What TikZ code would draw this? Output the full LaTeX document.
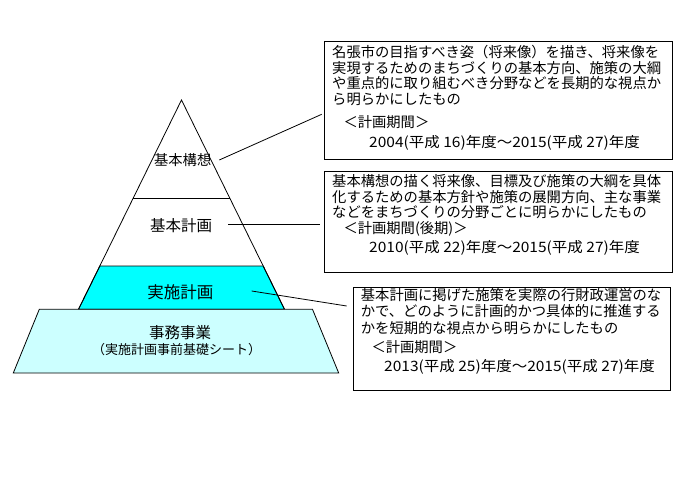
\documentclass[tikz,border=0pt]{standalone}
\usepackage{graphicx}
\usepackage{fontspec}
\newfontfamily\jp{Noto Sans CJK JP}
\definecolor{bandcyan}{RGB}{0,255,255}
\definecolor{basecyan}{RGB}{204,255,255}
\newcommand{\wdate}[1]{\scalebox{1.084}[1]{#1}}
\begin{document}
\begin{tikzpicture}[x=1pt,y=-1pt,
  edge/.style={draw=black,line width=0.8pt},
  infobox/.style={draw=black,line width=0.9pt,fill=white,inner sep=0,outer sep=0},
  txt/.style={font=\jp\fontsize{14.3}{16}\selectfont,inner sep=0,anchor=base west},
  lbl/.style={inner sep=0,anchor=base}]
\useasboundingbox (0,0) rectangle (700,500);
% pyramid
\filldraw[edge,fill=bandcyan] (99.8,266) -- (263.2,266) -- (284.5,309.3) -- (78.5,309.3) -- cycle;
\draw[edge] (78.5,309.3) -- (181.5,100) -- (284.5,309.3);
\draw[edge] (133.1,198.3) -- (229.9,198.3);
\filldraw[edge,fill=basecyan] (39.3,309.3) -- (312.5,309.3) -- (338.7,373) -- (13.3,373) -- cycle;
% pyramid labels
\node[lbl,font=\jp\fontsize{14.3}{16}\selectfont] (lkoso) at (182.7,165.4) {基本構想};
\node[lbl,font=\jp\fontsize{15.5}{17}\selectfont] (lkihon) at (181,231.6) {基本計画};
\node[lbl,font=\jp\fontsize{16.5}{18}\selectfont] (ljisshi) at (180.3,298.6) {実施計画};
\node[lbl,font=\jp\fontsize{15.5}{17}\selectfont] (ljimu) at (180,338.2) {事務事業};
\node[lbl,font=\jp\fontsize{13}{15}\selectfont] (ljimusub) at (176.7,354.9) {（実施計画事前基礎シート）};
% boxes
\node[infobox,minimum width=348pt,minimum height=117.3pt] (box1) at (498,100.35) {};
\node[infobox,minimum width=348pt,minimum height=101pt] (box2) at (498,222.2) {};
\node[infobox,minimum width=317pt,minimum height=102.3pt] (box3) at (511.5,338.85) {};
% box 1 text
\node[txt] (a1) at (332,57.4) {名張市の目指すべき姿（将来像）を描き、将来像を};
\node[txt] (a2) at (332,73.1) {実現するためのまちづくりの基本方向、施策の大綱};
\node[txt] (a3) at (332,88.7) {や重点的に取り組むべき分野などを長期的な視点か};
\node[txt] (a4) at (332,104.4) {ら明らかにしたもの};
\node[txt] (a5) at (343.3,127.7) {＜計画期間＞};
\node[txt] (a6) at (369,147.1) {\wdate{2004(平成 16)年度～2015(平成 27)年度}};
% box 2 text
\node[txt] (b1) at (332,186.4) {基本構想の描く将来像、目標及び施策の大綱を具体};
\node[txt] (b2) at (332,202.2) {化するための基本方針や施策の展開方向、主な事業};
\node[txt] (b3) at (332,217.9) {などをまちづくりの分野ごとに明らかにしたもの};
\node[txt] (b4) at (343.3,233.7) {＜計画期間(後期)＞};
\node[txt] (b5) at (369,252.9) {\wdate{2010(平成 22)年度～2015(平成 27)年度}};
% box 3 text
\node[txt] (c1) at (360.7,300.4) {基本計画に掲げた施策を実際の行財政運営のな};
\node[txt] (c2) at (360.7,316.9) {かで、どのように計画的かつ具体的に推進する};
\node[txt] (c3) at (360.7,333.4) {かを短期的な視点から明らかにしたもの};
\node[txt] (c4) at (371.3,352.4) {＜計画期間＞};
\node[txt] (c5) at (384,371.4) {\wdate{2013(平成 25)年度～2015(平成 27)年度}};
% connectors
\coordinate (k1s) at (219.3,160);
\coordinate (k1e) at (321.7,114.3);
\coordinate (k2s) at (228.3,224.3);
\coordinate (k2e) at (320,224.3);
\coordinate (k3s) at (251.7,291);
\coordinate (k3e) at (346.7,306);
\draw[edge] (k1s) -- (k1e);
\draw[edge] (k2s) -- (k2e);
\draw[edge] (k3s) -- (k3e);
\end{tikzpicture}
\end{document}
